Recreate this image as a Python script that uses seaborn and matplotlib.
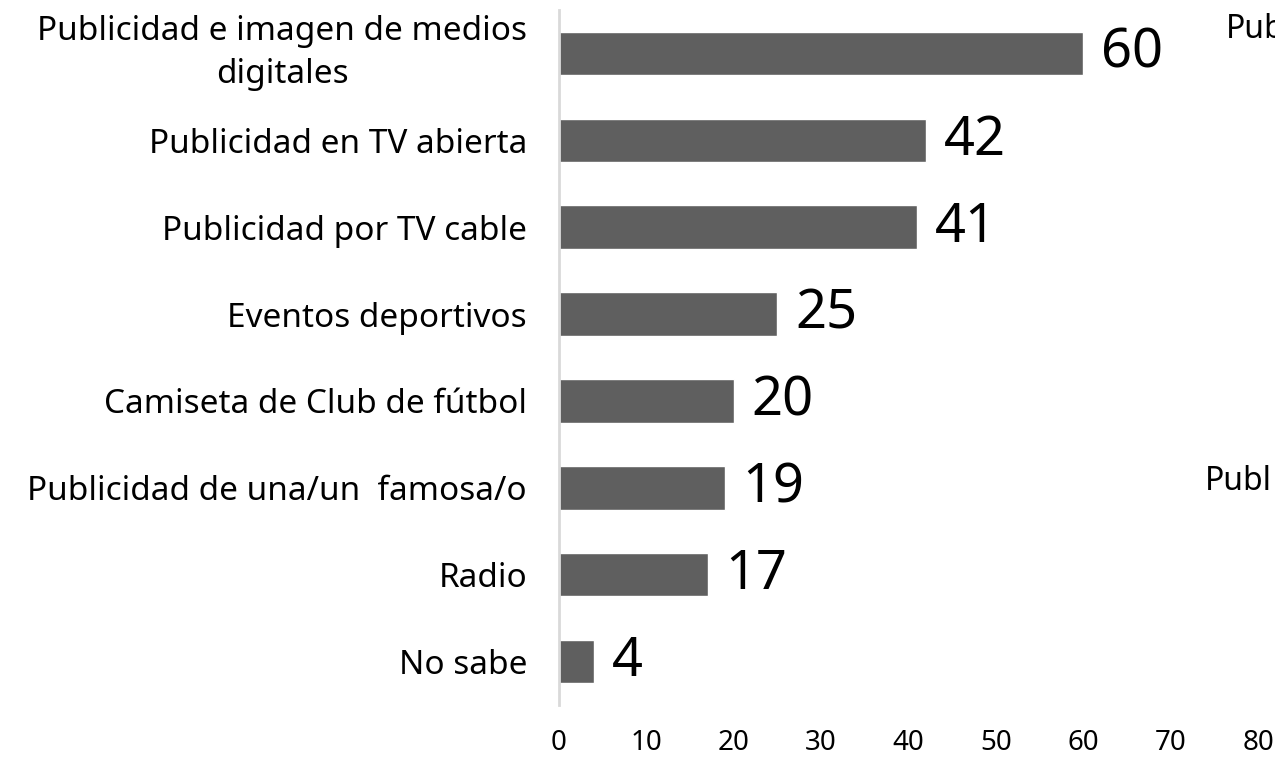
import numpy as np
import pandas as pd
import matplotlib
matplotlib.use("Agg")
import matplotlib.pyplot as plt
import seaborn as sns

# data
categories = ["Publicidad e imagen de medios\ndigitales",
              "Publicidad en TV abierta",
              "Publicidad por TV cable",
              "Eventos deportivos",
              "Camiseta de Club de fútbol",
              "Publicidad de una/un  famosa/o",
              "Radio",
              "No sabe"]
values = [60, 42, 41, 25, 20, 19, 17, 4]
x_ticks = [0, 10, 20, 30, 40, 50, 60, 70, 80]

df = pd.DataFrame({"cat": categories, "val": values})

sns.set_style("white")
plt.rcParams['font.family'] = ['Noto Sans', 'DejaVu Sans']
plt.rcParams['text.color'] = 'black'
plt.rcParams['xtick.color'] = 'black'
plt.rcParams['ytick.color'] = 'black'

bar_color = "#5f5f5f"
spine_color = "#d9d9d9"

fig = plt.figure(figsize=(12.75, 7.58), dpi=100)
ax = fig.add_axes([559 / 1275, 1 - 705 / 758, (1258 - 559) / 1275, 695 / 758])

sns.barplot(data=df, x="val", y="cat", color=bar_color, width=0.5,
            saturation=1, ax=ax)

ax.set_xlim(0, 80)
ax.set_ylim(7.5, -0.5)
ax.set_xticks(x_ticks)
ax.set_xlabel("")
ax.set_ylabel("")

for s in ["top", "right", "bottom"]:
    ax.spines[s].set_visible(False)
ax.spines["left"].set_color(spine_color)
ax.spines["left"].set_linewidth(2)

ax.tick_params(axis='y', length=0, pad=23, labelsize=24)
ax.tick_params(axis='x', length=0, pad=17, labelsize=20)
for lab in ax.get_yticklabels():
    lab.set_multialignment("center")
    if "\n" in lab.get_text():
        lab.set_linespacing(1.4)
        lab.set_va("center")

# value labels
for i, v in enumerate(values):
    ax.text(v + 2, i, str(v), va='center', ha='left', fontsize=39, color="black")

# cut-off text from the next panel
fig.text(1226 / 1275, 1 - 38 / 758, "Pub", fontsize=23, va='baseline', ha='left')
fig.text(1205 / 1275, 1 - 490 / 758, "Publ", fontsize=23, va='baseline', ha='left')

plt.savefig("out.png", dpi=100)
